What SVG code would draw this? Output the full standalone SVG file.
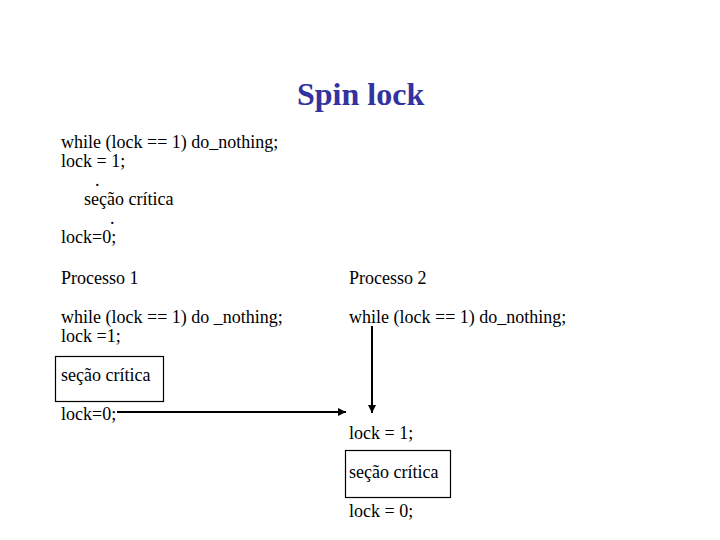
<svg xmlns="http://www.w3.org/2000/svg" width="720" height="540" viewBox="0 0 720 540">
<style>
  text { font-family: "Liberation Serif", "Times New Roman", serif; font-size: 18px; fill: #000; }
  .title { font-size: 32px; font-weight: bold; fill: #3333a0; }
  .box { fill: none; stroke: #000; stroke-width: 1.2; }
  .conn { stroke: #000; stroke-width: 2; fill: none; }
</style>
<defs>
  <marker id="arr" viewBox="0 0 10 10" refX="10" refY="5" markerWidth="4" markerHeight="4" orient="auto" markerUnits="strokeWidth">
    <path d="M0,0 L10,5 L0,10 z" fill="#000"/>
  </marker>
</defs>
<rect width="720" height="540" fill="#fff"/>
<g id="title"><text class="title" x="297" y="105">Spin lock</text></g>
<g id="code">
  <text x="61" y="148">while (lock == 1) do_nothing;</text>
  <text x="61" y="167">lock = 1;</text>
  <text x="95" y="186">.</text>
  <text x="84" y="205">seção crítica</text>
  <text x="110" y="224">.</text>
  <text x="61" y="243">lock=0;</text>
</g>
<g id="p1">
  <text x="61" y="284">Processo 1</text>
  <text x="61" y="323">while (lock == 1) do _nothing;</text>
  <text x="61" y="342">lock =1;</text>
</g>
<g id="p1-crit">
  <rect class="box" x="55.5" y="356.5" width="108" height="45"/>
  <text x="61" y="381">seção crítica</text>
</g>
<g id="p1-unlock"><text x="61" y="420">lock=0;</text></g>
<g id="p2">
  <text x="349" y="284">Processo 2</text>
  <text x="349" y="323">while (lock == 1) do_nothing;</text>
</g>
<g id="p2-lock"><text x="349" y="439">lock = 1;</text></g>
<g id="p2-crit">
  <rect class="box" x="345.5" y="450.5" width="105" height="47"/>
  <text x="349" y="478">seção crítica</text>
</g>
<g id="p2-unlock"><text x="349" y="517">lock = 0;</text></g>
<g id="connectors">
  <line class="conn" x1="117" y1="412" x2="346" y2="412" marker-end="url(#arr)"/>
  <line class="conn" x1="372" y1="326" x2="372" y2="413" marker-end="url(#arr)"/>
</g>
</svg>
